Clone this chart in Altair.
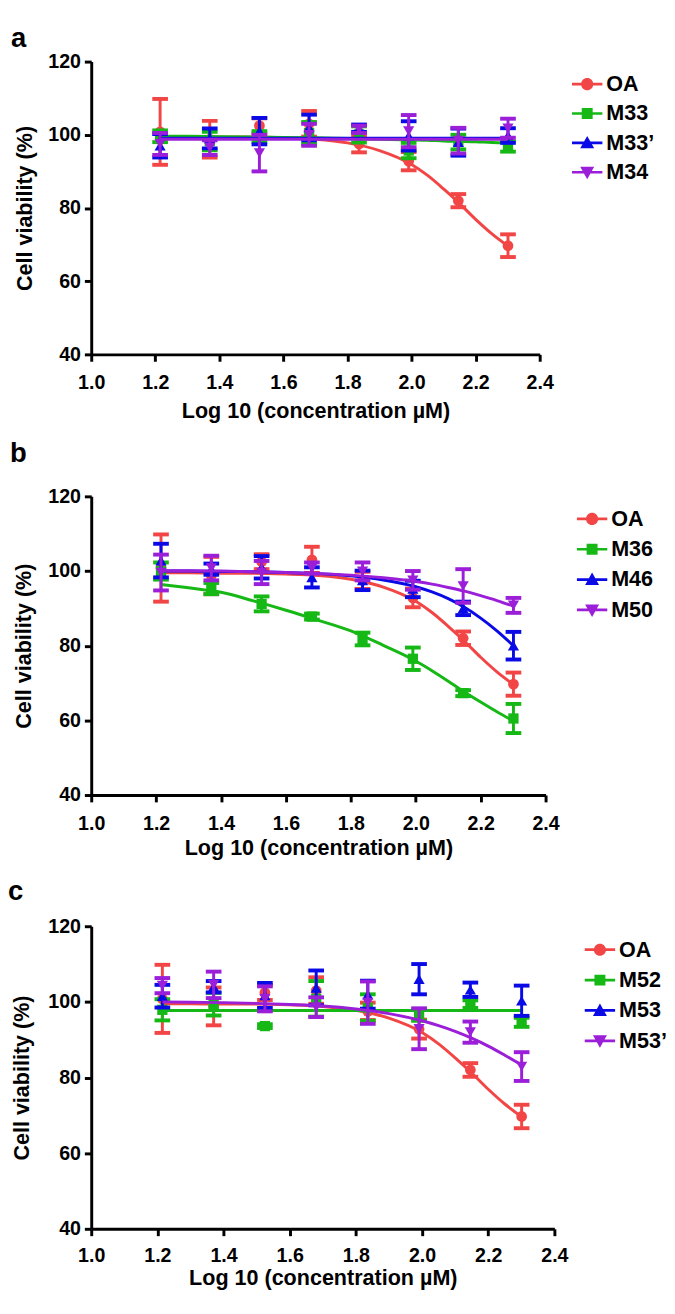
import altair as alt
import pandas as pd

FONT = "Liberation Sans, Arial, Helvetica, sans-serif"

# ---------------- data ----------------
X_DOSE = [1.215, 1.370, 1.525, 1.680, 1.836, 1.991, 2.146, 2.301]
CURVE_X = [1.215, 1.3, 1.4, 1.5, 1.6, 1.7, 1.8, 1.9, 2.0, 2.05, 2.1, 2.15, 2.2, 2.25, 2.301]
X_TICKS = [1.0, 1.2, 1.4, 1.6, 1.8, 2.0, 2.2, 2.4]
Y_TICKS = [40, 60, 80, 100, 120]

OA_MEAN = [100.8, 98.8, 102.5, 103.0, 97.5, 92.8, 82.0, 69.7]
OA_SD = [9.0, 5.0, 2.0, 3.5, 2.3, 2.5, 1.8, 3.1]
OA_FIT = [99.5, 99.5, 99.4, 99.4, 99.2, 98.8, 97.8, 95.7, 91.9, 88.9, 85.2, 81.2, 76.9, 73.0, 69.6]

M33_MEAN = [99.6, 98.3, 99.5, 100.5, 100.1, 95.7, 98.0, 96.8]
M33_SD = [1.6, 2.5, 1.5, 3.0, 2.2, 2.1, 2.0, 1.4]
M33_FIT = [99.6, 99.6, 99.5, 99.4, 99.3, 99.2, 99.0, 98.8, 98.6, 98.5, 98.3, 98.2, 98.1, 97.9, 97.8]

M33P_MEAN = [97.0, 99.0, 101.0, 102.0, 101.8, 99.7, 98.0, 99.8]
M33P_SD = [3.2, 2.7, 3.6, 3.5, 1.0, 4.0, 3.7, 2.0]
M33P_FIT = [99.1, 99.1, 99.1, 99.1, 99.1, 99.1, 99.1, 99.1, 99.1, 99.1, 99.1, 99.1, 99.1, 99.1, 99.1]

M34_MEAN = [97.5, 96.5, 95.0, 100.0, 101.5, 101.0, 98.4, 101.8]
M34_SD = [3.0, 2.0, 5.0, 3.0, 1.0, 4.4, 3.5, 2.6]
M34_FIT = [98.8, 98.8, 98.8, 98.8, 98.8, 98.8, 98.8, 98.8, 98.8, 98.8, 98.8, 98.8, 98.8, 98.8, 98.8]

M36_MEAN = [100.0, 95.3, 91.2, 87.8, 81.8, 76.5, 67.3, 60.5]
M36_SD = [2.3, 1.5, 2.0, 0.8, 1.7, 3.0, 0.8, 3.9]
M36_FIT = [96.4, 95.5, 94.3, 92.0, 89.5, 86.8, 84.0, 80.1, 75.9, 73.3, 70.5, 67.6, 64.9, 62.3, 59.8]

M46_MEAN = [102.8, 100.5, 101.0, 98.3, 97.5, 95.2, 90.0, 80.0]
M46_SD = [4.5, 1.5, 3.0, 2.7, 2.6, 2.2, 1.8, 3.7]
M46_FIT = [100.0, 100.0, 99.9, 99.8, 99.6, 99.3, 98.7, 97.6, 95.8, 94.4, 92.6, 90.3, 87.4, 84.0, 80.0]

M50_MEAN = [99.6, 100.8, 99.6, 100.8, 99.9, 97.5, 96.0, 90.8]
M50_SD = [4.8, 3.3, 3.1, 1.5, 2.4, 2.5, 4.5, 2.0]
M50_FIT = [100.1, 100.1, 100.0, 99.8, 99.6, 99.3, 98.9, 98.2, 97.2, 96.5, 95.6, 94.6, 93.4, 92.1, 90.6]

M52_MEAN = [97.9, 99.4, 93.6, 100.8, 98.5, 96.5, 99.4, 94.6]
M52_SD = [2.8, 3.0, 0.5, 4.7, 3.5, 1.5, 1.0, 1.2]
M52_FIT = [97.7, 97.7, 97.7, 97.7, 97.7, 97.7, 97.7, 97.7, 97.7, 97.7, 97.7, 97.7, 97.7, 97.7, 97.7]

M53_MEAN = [101.5, 104.0, 101.7, 103.7, 101.9, 106.0, 103.2, 100.3]
M53_SD = [3.0, 1.5, 3.3, 4.6, 3.7, 4.0, 1.9, 4.0]

M53P_MEAN = [104.3, 104.5, 100.8, 98.6, 99.8, 92.9, 92.0, 82.9]
M53P_SD = [2.0, 3.5, 3.3, 2.6, 5.6, 5.4, 2.8, 3.8]
M53P_FIT = [100.0, 99.9, 99.8, 99.6, 99.3, 98.9, 98.1, 96.9, 95.0, 93.7, 92.2, 90.4, 88.3, 85.9, 83.3]

PANELS = [
    dict(letter="a", names=["OA", "M33", "M33\u2019", "M34"],
         means=[OA_MEAN, M33_MEAN, M33P_MEAN, M34_MEAN],
         sds=[OA_SD, M33_SD, M33P_SD, M34_SD],
         fits=[OA_FIT, M33_FIT, M33P_FIT, M34_FIT]),
    dict(letter="b", names=["OA", "M36", "M46", "M50"],
         means=[OA_MEAN, M36_MEAN, M46_MEAN, M50_MEAN],
         sds=[OA_SD, M36_SD, M46_SD, M50_SD],
         fits=[OA_FIT, M36_FIT, M46_FIT, M50_FIT]),
    dict(letter="c", names=["OA", "M52", "M53", "M53\u2019"],
         means=[OA_MEAN, M52_MEAN, M53_MEAN, M53P_MEAN],
         sds=[OA_SD, M52_SD, M53_SD, M53P_SD],
         fits=[OA_FIT, M52_FIT, None, M53P_FIT]),
]

# ---------------- styling / layout ----------------
COLORS = ["#F24545", "#16B816", "#0A0AE6", "#9B1FD8"]
MARKERS = ["circle", "square", "triangle-up", "triangle-down"]
MARKER_SIZE = [120, 110, 130, 130]
BAR = "M-1,-0.09H1V0.09H-1Z"
LEGEND_PATHS = [
    BAR + "M0.4,0A0.4,0.4,0,1,1,-0.4,0A0.4,0.4,0,1,1,0.4,0Z",
    BAR + "M-0.36,-0.36H0.36V0.36H-0.36Z",
    BAR + "M0,-0.46L0.46,0.36H-0.46Z",
    BAR + "M-0.46,-0.36H0.46L0,0.46Z",
]

LAYOUT = [
    dict(w=458, h=299, lx=-82, ly=-15, xlp=12, xtp=8, ytp=12, legx=33, legy=7.5, rowpad=3),
    dict(w=464, h=305, lx=-83, ly=-35, xlp=12, xtp=5, ytp=13, legx=32, legy=7.5, rowpad=4),
    dict(w=473, h=309, lx=-85, ly=-27, xlp=10, xtp=3, ytp=15, legx=31, legy=8.5, rowpad=4),
]


def make_panel(p, lay):
    xs = alt.Scale(domain=[1.0, 2.4], nice=False, zero=False)
    ys = alt.Scale(domain=[40, 120], nice=False, zero=False)
    common = dict(grid=False, domainColor="black", domainWidth=3, tickColor="black",
                  tickWidth=3, tickSize=7, labelFont=FONT, labelFontSize=20,
                  labelFontWeight="bold", labelColor="black", titleFont=FONT,
                  titleFontSize=22, titleFontWeight="bold", titleColor="black",
                  labelOverlap=False)
    xaxis = alt.Axis(title="Log 10 (concentration \u00b5M)", values=X_TICKS, format=".1f",
                     labelPadding=lay["xlp"], titlePadding=lay["xtp"], labelFlush=False, **common)
    yaxis = alt.Axis(title="Cell viability (%)", values=Y_TICKS, format="d",
                     labelPadding=4, titlePadding=lay["ytp"], **common)

    def X(f):
        return alt.X(f"{f}:Q", scale=xs, axis=xaxis)

    def Y(f):
        return alt.Y(f"{f}:Q", scale=ys, axis=yaxis)

    layers = []
    allpts = []
    for i, name in enumerate(p["names"]):
        col = COLORS[i]
        m = p["means"][i]
        s = p["sds"][i]
        pts = pd.DataFrame({"series": name, "x": X_DOSE, "m": m,
                            "lo": [a - b for a, b in zip(m, s)],
                            "hi": [a + b for a, b in zip(m, s)]})
        allpts.append(pts)
        fit = p["fits"][i]
        if fit is not None:
            cur = pd.DataFrame({"x": CURVE_X, "y": fit})
            layers.append(alt.Chart(cur).mark_line(color=col, strokeWidth=3, interpolate="monotone")
                          .encode(x=X("x"), y=Y("y")))
        base = alt.Chart(pts)
        layers.append(base.mark_rule(color=col, strokeWidth=3).encode(x=X("x"), y=Y("lo"), y2="hi"))
        for f in ("lo", "hi"):
            layers.append(base.mark_tick(color=col, orient="horizontal", size=16, thickness=4, opacity=1)
                          .encode(x=X("x"), y=Y(f)))
        layers.append(base.mark_point(shape=MARKERS[i], filled=True, color=col, size=MARKER_SIZE[i],
                                      opacity=1, strokeWidth=0)
                      .encode(x=X("x"), y=Y("m")))

    leg = alt.Legend(title=None, orient="none", legendX=lay["w"] + lay["legx"], legendY=lay["legy"],
                     padding=0, symbolSize=961, symbolStrokeWidth=0, symbolOpacity=1,
                     labelFont=FONT, labelFontSize=22, labelFontWeight="bold", labelColor="black",
                     labelOffset=4, rowPadding=lay["rowpad"], labelLimit=200)
    legdf = pd.concat(allpts)
    layers.append(alt.Chart(legdf).transform_filter("datum.x < 0")
                  .mark_point(filled=True, opacity=1)
                  .encode(x=X("x"), y=Y("m"),
                          color=alt.Color("series:N", scale=alt.Scale(domain=p["names"], range=COLORS), legend=leg),
                          shape=alt.Shape("series:N", scale=alt.Scale(domain=p["names"], range=LEGEND_PATHS), legend=leg)))
    layers.append(alt.Chart(pd.DataFrame({"t": [p["letter"]]}))
                  .mark_text(font=FONT, fontSize=28, fontWeight="bold", align="left",
                             baseline="alphabetic", color="black")
                  .encode(x=alt.value(lay["lx"]), y=alt.value(lay["ly"]), text="t:N"))
    return alt.layer(*layers).properties(width=lay["w"], height=lay["h"])


chart = (alt.vconcat(*[make_panel(p, l) for p, l in zip(PANELS, LAYOUT)], spacing=20)
         .resolve_scale(x="independent", y="independent", color="independent", shape="independent")
         .resolve_legend(color="independent", shape="independent")
         .properties(padding={"top": 4, "left": 0, "right": 0, "bottom": 0}, background="white")
         .configure_view(stroke=None))

chart.save("out.html", embed_options={"renderer": "svg", "actions": False})
